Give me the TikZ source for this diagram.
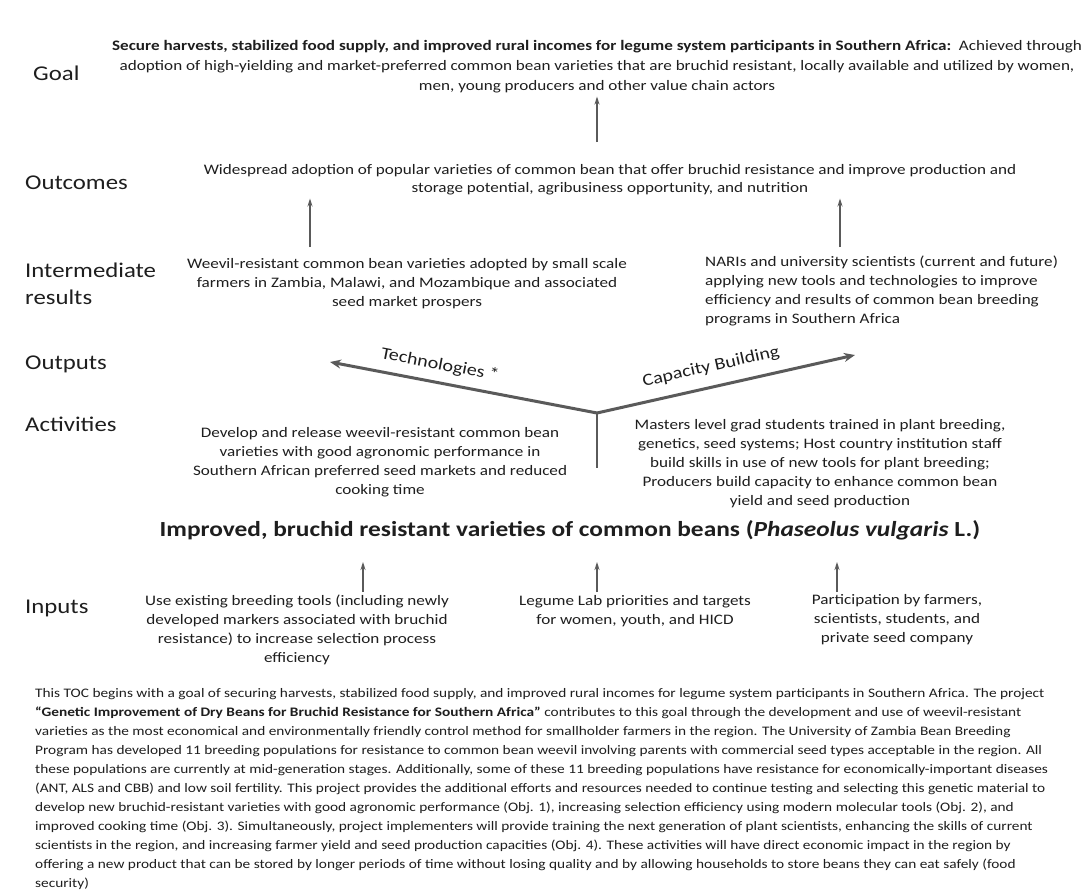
\documentclass[tikz,border=0pt]{standalone}
\usepackage{fontspec}
\setmainfont{Carlito}[FakeStretch=1.18]
\usetikzlibrary{arrows.meta,calc}
\definecolor{ink}{HTML}{1E1E1E}
\definecolor{arrowgray}{HTML}{5A5A5A}
\begin{document}
\begin{tikzpicture}[x=1pt,y=-1pt,
  rowlabel/.style={anchor=west, font=\fontsize{21}{24}\selectfont, text=ink, inner sep=0pt},
  body/.style={font=\fontsize{14.5}{19}\selectfont, text=ink, align=center, inner sep=0pt},
  parabody/.style={font=\fontsize{13}{19}\selectfont, text=ink, align=left, inner sep=0pt, anchor=north west},
  branchlabel/.style={font=\fontsize{17}{20}\selectfont, text=ink, inner sep=0pt},
  uparrow/.style={draw=arrowgray, line width=1.3pt, -{Stealth[length=8pt,width=5pt]}},
  branch/.style={draw=arrowgray, line width=3pt, -{Stealth[length=11pt,width=9pt]}},
  stem/.style={draw=arrowgray, line width=2.2pt},
]
\useasboundingbox (0,0) rectangle (1088,894);
\fill[white] (0,0) rectangle (1088,894);

% row labels
\node[rowlabel] (lgoal) at (33,73) {Goal};
\node[rowlabel] (lout) at (25,183) {Outcomes};
\node[rowlabel, align=left, font=\fontsize{21}{27}\selectfont] (lir) at (25,284) {Intermediate\\results};
\node[rowlabel] (loutp) at (25,364) {Outputs};
\node[rowlabel] (lact) at (25,424) {Activities};
\node[rowlabel] (lin) at (25,608) {Inputs};

% goal
\node[body, font=\fontsize{14.5}{20}\selectfont] (goal) at (597,67)
  {\textbf{Secure harvests, stabilized food supply, and improved rural incomes for legume system participants in Southern Africa:}\ \ Achieved through\\
   adoption of high-yielding and market-preferred common bean varieties that are bruchid resistant, locally available and utilized by women,\\
   men, young producers and other value chain actors};

% outcomes
\node[body, font=\fontsize{14.5}{18}\selectfont] (outc) at (610,180)
  {Widespread adoption of popular varieties of common bean that offer bruchid resistance and improve production and\\
   storage potential, agribusiness opportunity, and nutrition};

% intermediate results
\node[body] (irl) at (407,284)
  {Weevil-resistant common bean varieties adopted by small scale\\
   farmers in Zambia, Malawi, and Mozambique and associated\\
   seed market prospers};
\node[body, align=left, anchor=west] (irr) at (705,291)
  {NARIs and university scientists (current and future)\\
   applying new tools and technologies to improve\\
   efficiency and results of common bean breeding\\
   programs in Southern Africa};

% outputs: the two branches
\coordinate (hub) at (597,413);
\coordinate (techtip) at (330,362);
\coordinate (captip) at (855,355);
\coordinate (stemend) at (597,468);
\draw[branch] (hub) -- (techtip);
\draw[branch] (hub) -- (captip);
\draw[stem] (hub) -- (stemend);
\node[branchlabel, rotate=-11] (tech) at (440,365) {Technologies *};
\node[branchlabel, rotate=12.7] (cap) at (711,367) {Capacity Building};

% activities
\node[body] (actl) at (380,462)
  {Develop and release weevil-resistant common bean\\
   varieties with good agronomic performance in\\
   Southern African preferred seed markets and reduced\\
   cooking time};
\node[body] (actr) at (820,464)
  {Masters level grad students trained in plant breeding,\\
   genetics, seed systems; Host country institution staff\\
   build skills in use of new tools for plant breeding;\\
   Producers build capacity to enhance common bean\\
   yield and seed production};

% product
\node[font=\bfseries\fontsize{21.5}{24}\selectfont, text=ink, inner sep=0pt] (prod) at (570,530)
  {Improved, bruchid resistant varieties of common beans (\textit{Phaseolus vulgaris} L.)};

% inputs
\node[body] (in1) at (297,630)
  {Use existing breeding tools (including newly\\
   developed markers associated with bruchid\\
   resistance) to increase selection process\\
   efficiency};
\node[body] (in2) at (635,611)
  {Legume Lab priorities and targets\\
   for women, youth, and HICD};
\node[body] (in3) at (897,620)
  {Participation by farmers,\\
   scientists, students, and\\
   private seed company};

% upward arrows
\coordinate (t1) at (363,592);
\coordinate (t2) at (597,592);
\coordinate (t3) at (837,592);
\draw[uparrow, shorten >=22pt] (t1) -- (t1 |- prod.south);
\draw[uparrow, shorten >=22pt] (t2) -- (t2 |- prod.south);
\draw[uparrow, shorten >=22pt] (t3) -- (t3 |- prod.south);

\coordinate (r1) at (310,247);
\coordinate (r2) at (840,247);
\draw[uparrow, shorten >=3pt] (r1) -- (r1 |- outc.south);
\draw[uparrow, shorten >=3pt] (r2) -- (r2 |- outc.south);

\coordinate (o1) at (597,142);
\draw[uparrow, shorten >=3pt] (o1) -- (o1 |- goal.south);

% summary paragraph
\node[parabody] (para) at (35,688)
  {This TOC begins with a goal of securing harvests, stabilized food supply, and improved rural incomes for legume system participants in Southern Africa. The project\\
   \textbf{“Genetic Improvement of Dry Beans for Bruchid Resistance for Southern Africa”} contributes to this goal through the development and use of weevil-resistant\\
   varieties as the most economical and environmentally friendly control method for smallholder farmers in the region. The University of Zambia Bean Breeding\\
   Program has developed 11 breeding populations for resistance to common bean weevil involving parents with commercial seed types acceptable in the region. All\\
   these populations are currently at mid-generation stages. Additionally, some of these 11 breeding populations have resistance for economically-important diseases\\
   (ANT, ALS and CBB) and low soil fertility. This project provides the additional efforts and resources needed to continue testing and selecting this genetic material to\\
   develop new bruchid-resistant varieties with good agronomic performance (Obj. 1), increasing selection efficiency using modern molecular tools (Obj. 2), and\\
   improved cooking time (Obj. 3). Simultaneously, project implementers will provide training the next generation of plant scientists, enhancing the skills of current\\
   scientists in the region, and increasing farmer yield and seed production capacities (Obj. 4). These activities will have direct economic impact in the region by\\
   offering a new product that can be stored by longer periods of time without losing quality and by allowing households to store beans they can eat safely (food\\
   security)};
\end{tikzpicture}
\end{document}
